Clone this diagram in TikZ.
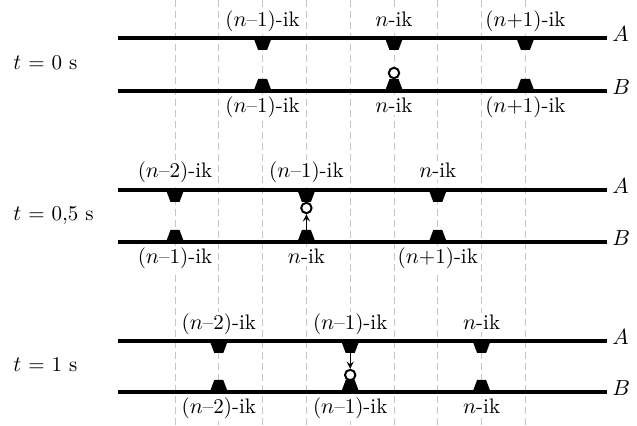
\documentclass[tikz,border=0pt]{standalone}
\begin{document}
\begin{tikzpicture}[x=0.5pt,y=-0.5pt,
    gearGrid/.style={gray!45,line width=0.5pt,dash pattern=on 3.5pt off 2pt},
    gearRail/.style={line width=2pt},
    gearLbl/.style={fill=white,inner sep=1pt,anchor=base,font=\fontsize{10.5}{12}\selectfont},
    gearSide/.style={anchor=base west,inner sep=0pt,font=\fontsize{10.5}{12}\selectfont},
    gearBall/.style={circle,draw,fill=white,line width=1pt,inner sep=0pt,minimum size=5.2pt},
    gearArrow/.style={->,>=stealth,line width=0.6pt},
]
\useasboundingbox (0,0) rectangle (637,426);
% Grid
\foreach \k in {0,...,8}
  \draw[gearGrid] ({175+43.8*\k},0) -- ({175+43.8*\k},426);
% Rails and teeth
\foreach \yA/\yB/\first in {38/91/2, 190/242/0, 341/392/1} {
  \draw[gearRail] (118,\yA) -- (607,\yA);
  \draw[gearRail] (118,\yB) -- (607,\yB);
  \foreach \j in {0,1,2} {
    \pgfmathsetmacro{\x}{175+43.8*(\first+3*\j)}
    \fill ({\x-9},\yA) -- ({\x+9},\yA) -- ({\x+4.5},{\yA+12}) -- ({\x-4.5},{\yA+12}) -- cycle;
    \fill ({\x-9},\yB) -- ({\x+9},\yB) -- ({\x+4.5},{\yB-12}) -- ({\x-4.5},{\yB-12}) -- cycle;
  }
}
% Rail names
\foreach \yA/\yB/\r in {38/91/0, 190/242/1, 341/392/2} {
  \node[gearSide] (railA\r) at (612,{\yA+4}) {$A$};
  \node[gearSide] (railB\r) at (612,{\yB+4}) {$B$};
}
% t = 0 s
\node[gearSide] (time0) at (13,70) {$t$ = 0 s};
\node[gearLbl] (topA1) at (262.6,27) {($n$--1)-ik};
\node[gearLbl] (topA2) at (394,27) {$n$-ik};
\node[gearLbl] (topA3) at (525.4,27) {($n$+1)-ik};
\node[gearLbl] (topB1) at (262.6,113) {($n$--1)-ik};
\node[gearLbl] (topB2) at (394,113) {$n$-ik};
\node[gearLbl] (topB3) at (525.4,113) {($n$+1)-ik};
\node[gearBall] (ball0) at (394,73) {};
% t = 0,5 s
\node[gearSide] (time1) at (13,221) {$t$ = 0,5 s};
\node[gearLbl] (midA1) at (175,178) {($n$--2)-ik};
\node[gearLbl] (midA2) at (306.4,178) {($n$--1)-ik};
\node[gearLbl] (midA3) at (437.8,178) {$n$-ik};
\node[gearLbl] (midB1) at (175,264) {($n$--1)-ik};
\node[gearLbl] (midB2) at (306.4,264) {$n$-ik};
\node[gearLbl] (midB3) at (437.8,264) {($n$+1)-ik};
\node[gearBall] (ball1) at (306.4,208) {};
\coordinate (tip1) at (306.4,230);
\draw[gearArrow] (tip1) -- (ball1);
% t = 1 s
\node[gearSide] (time2) at (13,372) {$t$ = 1 s};
\node[gearLbl] (botA1) at (218.8,330) {($n$--2)-ik};
\node[gearLbl] (botA2) at (350.2,330) {($n$--1)-ik};
\node[gearLbl] (botA3) at (481.6,330) {$n$-ik};
\node[gearLbl] (botB1) at (218.8,414) {($n$--2)-ik};
\node[gearLbl] (botB2) at (350.2,414) {($n$--1)-ik};
\node[gearLbl] (botB3) at (481.6,414) {$n$-ik};
\node[gearBall] (ball2) at (350.2,375) {};
\coordinate (tip2) at (350.2,353);
\draw[gearArrow] (tip2) -- (ball2);
\end{tikzpicture}
\end{document}
